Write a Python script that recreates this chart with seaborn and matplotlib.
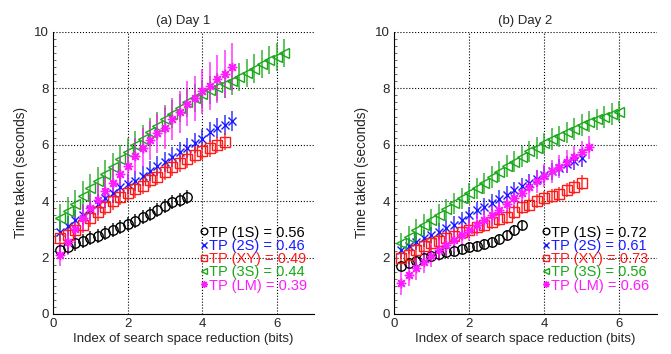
import numpy as np
import seaborn as sns
import matplotlib
matplotlib.use('Agg')
import matplotlib.pyplot as plt
from matplotlib.ticker import MultipleLocator

# Datos
labels = ['TP (1S)', 'TP (2S)', 'TP (XY)', 'TP (3S)', 'TP (LM)']
colors = ['black', '#1a1aff', '#ff1a1a', '#1aa81a', '#ff1aff']
markers = ['o', 'x', 's', '<', (8, 2, 0)]
filled = [False, True, False, False, True]

# Panel (a) Day 1
day1_tp = [0.56, 0.46, 0.49, 0.44, 0.39]
day1_x = [
    [round(0.2 * k, 1) for k in range(1, 19)],
    [round(0.2 * k, 1) for k in range(1, 25)],
    [round(0.2 * k, 1) for k in range(1, 24)],
    [round(0.2 * k, 1) for k in range(1, 32)],
    [round(0.2 * k, 1) for k in range(1, 25)],
]
day1_1s = [2.27, 2.39, 2.5, 2.6, 2.68, 2.77, 2.86, 2.98, 3.07, 3.19, 3.31, 3.43,
           3.55, 3.69, 3.83, 3.96, 4.05, 4.15]
day1_2s = [2.92, 3.12, 3.33, 3.5, 3.68, 3.9, 4.1, 4.3, 4.5, 4.62, 4.72, 4.88,
           5.08, 5.25, 5.4, 5.56, 5.73, 5.88, 6.05, 6.2, 6.44, 6.58, 6.7, 6.84]
day1_xy = [2.68, 2.8, 2.98, 3.16, 3.39, 3.6, 3.81, 3.99, 4.16, 4.3, 4.42, 4.54,
           4.75, 4.87, 5.05, 5.2, 5.34, 5.48, 5.64, 5.76, 5.88, 5.99, 6.11]
day1_3s = [3.4, 3.65, 3.9, 4.2, 4.45, 4.7, 4.95, 5.2, 5.5, 5.75, 6.0, 6.2, 6.45,
           6.65, 6.9, 7.1, 7.3, 7.5, 7.65, 7.8, 7.95, 8.05, 8.15, 8.25, 8.4, 8.55,
           8.7, 8.85, 9.0, 9.1, 9.25]
day1_lm = [2.1, 2.55, 3.0, 3.4, 3.75, 4.05, 4.35, 4.65, 4.95, 5.25, 5.6, 5.9,
           6.15, 6.4, 6.6, 6.9, 7.15, 7.45, 7.65, 7.9, 8.08, 8.32, 8.5, 8.77]
day1_err = [0.25, 0.35, 0.3, 0.5,
            [0.4, 0.45, 0.45, 0.5, 0.5, 0.55, 0.55, 0.6, 0.6, 0.65, 0.65, 0.7,
             0.7, 0.7, 0.75, 0.75, 0.75, 0.8, 0.8, 0.8, 0.85, 0.85, 0.85, 0.85]]

# Panel (b) Day 2
day2_tp = [0.72, 0.61, 0.73, 0.56, 0.66]
day2_x = [
    [round(0.2 * k, 1) for k in range(1, 18)],
    [round(0.2 * k, 1) for k in range(1, 26)],
    [round(0.2 * k, 1) for k in range(1, 26)],
    [round(0.2 * k, 1) for k in range(1, 31)],
    [round(0.2 * k, 1) for k in range(1, 27)],
]
day2_1s = [1.7, 1.8, 1.89, 1.98, 2.04, 2.13, 2.18, 2.25, 2.3, 2.37, 2.41, 2.48,
           2.56, 2.67, 2.8, 2.97, 3.15]
day2_2s = [2.27, 2.41, 2.56, 2.68, 2.8, 2.92, 3.04, 3.16, 3.33, 3.51, 3.67, 3.81,
           3.94, 4.08, 4.22, 4.38, 4.52, 4.66, 4.8, 4.93, 5.06, 5.18, 5.3, 5.42, 5.52]
day2_xy = [1.97, 2.09, 2.27, 2.41, 2.5, 2.6, 2.68, 2.77, 2.89, 2.98, 3.07, 3.16,
           3.27, 3.36, 3.45, 3.6, 3.78, 3.87, 3.99, 4.1, 4.17, 4.26, 4.4, 4.51, 4.66]
day2_3s = [2.5, 2.74, 2.98, 3.16, 3.33, 3.51, 3.71, 3.92, 4.1, 4.28, 4.45, 4.63,
           4.85, 5.05, 5.25, 5.4, 5.58, 5.76, 5.88, 6.05, 6.2, 6.3, 6.44, 6.56,
           6.7, 6.82, 6.9, 6.99, 7.09, 7.17]
day2_lm = [1.09, 1.38, 1.62, 1.86, 2.06, 2.27, 2.45, 2.62, 2.8, 2.98, 3.16, 3.33,
           3.52, 3.7, 3.9, 4.1, 4.3, 4.5, 4.7, 4.9, 5.06, 5.22, 5.4, 5.56, 5.73, 5.91]
day2_err = [0.18, 0.3, 0.25, 0.38, 0.4]

panels = [
    ('(a) Day 1', day1_x, [day1_1s, day1_2s, day1_xy, day1_3s, day1_lm], day1_err, day1_tp),
    ('(b) Day 2', day2_x, [day2_1s, day2_2s, day2_xy, day2_3s, day2_lm], day2_err, day2_tp),
]

sns.set_style('white')
plt.rcParams['font.family'] = ['Liberation Sans', 'DejaVu Sans']
plt.rcParams['font.size'] = 9.5

fig = plt.figure(figsize=(6.71, 3.54), dpi=100)
axes = [fig.add_axes([0.079, 0.113, 0.389, 0.797]),
        fig.add_axes([0.587, 0.113, 0.392, 0.797])]

for ax, (title, xs, ys, errs, tps) in zip(axes, panels):
    for i in range(5):
        ax.errorbar(xs[i], ys[i], yerr=errs[i], fmt='none', ecolor=colors[i],
                    elinewidth=1.3, capsize=0, alpha=0.75, zorder=2)
        sns.lineplot(x=xs[i], y=ys[i], ax=ax, color=colors[i], linestyle='',
                     marker=markers[i], markersize=6.8 if i != 1 else 6,
                     markerfacecolor=colors[i] if filled[i] else 'none',
                     markeredgecolor=colors[i], markeredgewidth=1.0,
                     label=f'{labels[i]} = {tps[i]:.2f}', zorder=3)
    ax.set_xlim(0, 7)
    ax.set_ylim(0, 10)
    ax.set_xticks([0, 2, 4, 6])
    ax.set_yticks([0, 2, 4, 6, 8, 10])
    ax.yaxis.set_minor_locator(MultipleLocator(0.25))
    ax.grid(True, which='major', linestyle=':', color='black', linewidth=0.8)
    ax.set_axisbelow(True)
    for s in ['top', 'right']:
        ax.spines[s].set_visible(False)
    for s in ['left', 'bottom']:
        ax.spines[s].set_color('black')
        ax.spines[s].set_linewidth(0.8)
    ax.tick_params(direction='in', length=3, labelsize=9.5, pad=3)
    ax.tick_params(axis='y', which='minor', direction='in', length=2,
                   color='#555555', width=0.6, left=True)
    ax.set_title(title, fontsize=9.5, pad=6)
    ax.set_xlabel('Index of search space reduction (bits)', fontsize=9.5, labelpad=2)
    ax.set_ylabel('Time taken (seconds)', fontsize=9.8, labelpad=4)
    leg = ax.legend(loc='lower left', bbox_to_anchor=(0.535, 0.05), frameon=False,
                    handlelength=0.5, handletextpad=0.15, labelspacing=-0.05,
                    borderpad=0, fontsize=10.5, markerscale=0.7)
    for txt, c in zip(leg.get_texts(), colors):
        txt.set_color(c)

fig.savefig('out.png', dpi=100)
